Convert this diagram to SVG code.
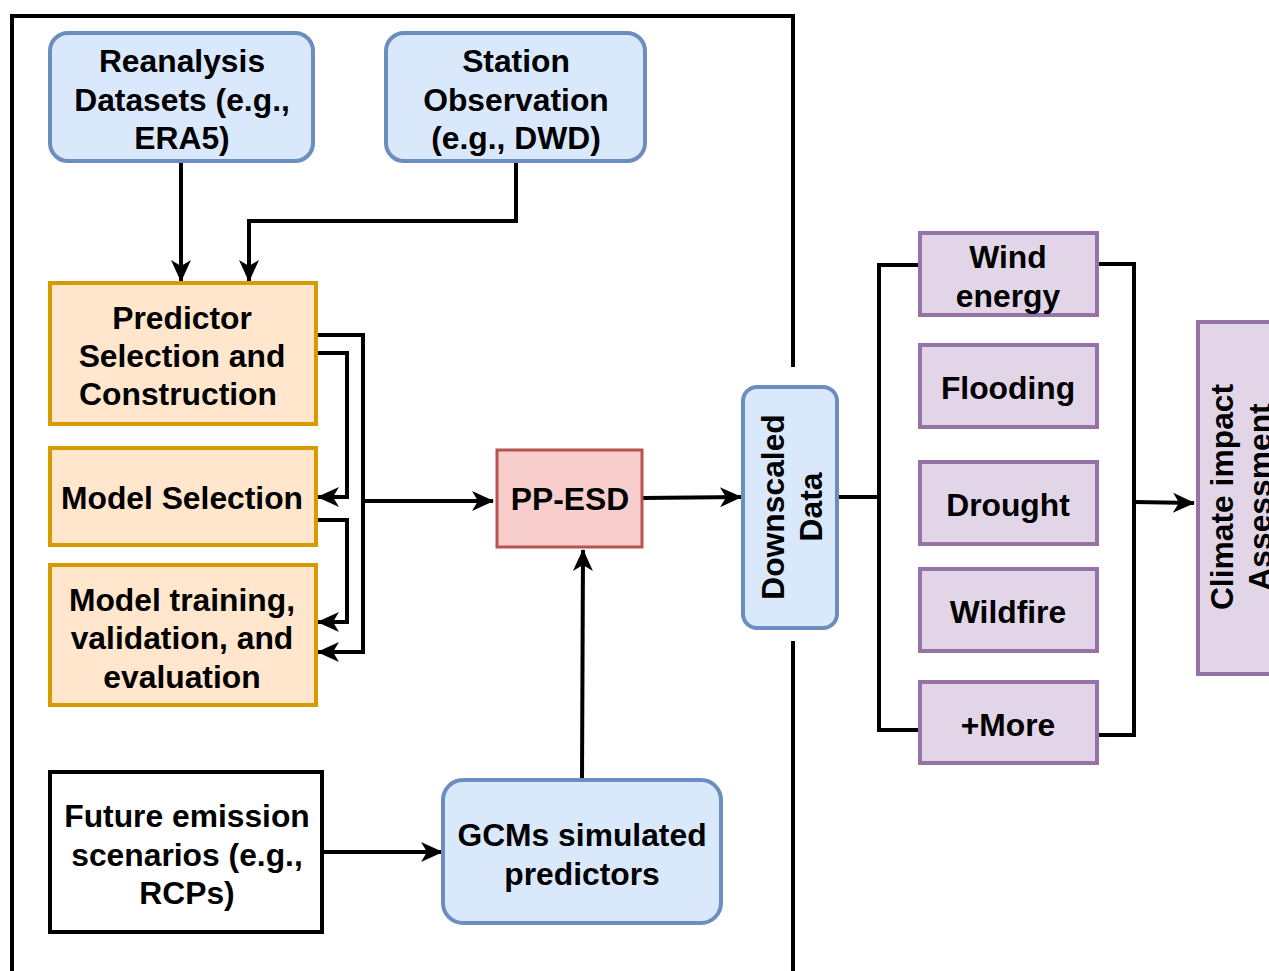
<svg xmlns="http://www.w3.org/2000/svg" width="1269" height="971" viewBox="0 0 1269 971">
<style>
text{font-family:"Liberation Sans",Arial,sans-serif;font-weight:bold;font-size:31.8px;fill:#000;text-anchor:middle;dominant-baseline:central}
.blue{fill:#dae8fc;stroke:#6c8ebf;stroke-width:4}
.orange{fill:#ffe6cc;stroke:#d79b00;stroke-width:4}
.red{fill:#f8cecc;stroke:#b85450;stroke-width:3}
.purple{fill:#e1d5e7;stroke:#9673a6;stroke-width:4}
.plain{fill:#fff;stroke:#000;stroke-width:4}
.ln{fill:none;stroke:#000;stroke-width:4}
.arr{marker-end:url(#ah)}
</style>
<defs>
<marker id="ah" markerUnits="userSpaceOnUse" markerWidth="24" markerHeight="24" viewBox="0 0 24 24" refX="22" refY="12" orient="auto">
<path d="M1,2 L23,12 L1,22 L7,12 z" fill="#000"/>
</marker>
</defs>
<rect width="1269" height="971" fill="#fff"/>
<g id="frame">
<path class="ln" d="M12,971 L12,16 L793,16 L793,367"/>
<path class="ln" d="M793,641 L793,971"/>
</g>
<g id="connectors">
<path class="ln arr" d="M181,161 L181,281"/>
<path class="ln arr" d="M516,161 L516,221 L249,221 L249,281"/>
<path class="ln arr" d="M316,335 L363,335 L363,652 L318,652"/>
<path class="ln arr" d="M316,353 L347,353 L347,497 L318,497"/>
<path class="ln arr" d="M316,520 L347,520 L347,622 L318,622"/>
<path class="ln arr" d="M363,501 L493,501"/>
<path class="ln arr" d="M642,498 L741,497"/>
<path class="ln arr" d="M582,780 L583,550"/>
<path class="ln arr" d="M322,852 L442,852"/>
<path class="ln" d="M837,497 L879,497"/>
<path class="ln" d="M920,265 L879,265 L879,730 L920,730"/>
<path class="ln" d="M1097,264 L1134,264 L1134,735 L1097,735"/>
<path class="ln arr" d="M1134,502 L1194,503"/>
</g>
<g id="reanalysis">
<rect class="blue" x="50" y="33" width="263" height="128" rx="18"/>
<text x="182" y="61">Reanalysis</text>
<text x="182" y="100">Datasets (e.g.,</text>
<text x="182" y="138">ERA5)</text>
</g>
<g id="station">
<rect class="blue" x="386" y="33" width="259" height="128" rx="18"/>
<text x="516" y="61">Station</text>
<text x="516" y="100">Observation</text>
<text x="516" y="138">(e.g., DWD)</text>
</g>
<g id="predictor">
<rect class="orange" x="50" y="283" width="266" height="141"/>
<text x="182" y="318">Predictor</text>
<text x="182" y="356">Selection and</text>
<text x="178" y="394">Construction</text>
</g>
<g id="modelsel">
<rect class="orange" x="50" y="448" width="266" height="97"/>
<text x="182" y="498">Model Selection</text>
</g>
<g id="modeltrain">
<rect class="orange" x="50" y="565" width="266" height="140"/>
<text x="182" y="600">Model training,</text>
<text x="182" y="638">validation, and</text>
<text x="182" y="677">evaluation</text>
</g>
<g id="ppesd">
<rect class="red" x="497" y="450" width="145" height="97"/>
<text x="570" y="499">PP-ESD</text>
</g>
<g id="future">
<rect class="plain" x="50" y="772" width="272" height="160"/>
<text x="187" y="816">Future emission</text>
<text x="187" y="855">scenarios (e.g.,</text>
<text x="187" y="893">RCPs)</text>
</g>
<g id="gcms">
<rect class="blue" x="443" y="780" width="278" height="143" rx="20"/>
<text x="582" y="835">GCMs simulated</text>
<text x="582" y="874">predictors</text>
</g>
<g id="downscaled">
<rect class="blue" x="743" y="387" width="94" height="241" rx="14"/>
<g transform="translate(792,507) rotate(-90)">
<text x="0" y="-19">Downscaled</text>
<text x="0" y="19">Data</text>
</g>
</g>
<g id="wind">
<rect class="purple" x="920" y="233" width="177" height="82"/>
<text x="1008" y="257">Wind</text>
<text x="1008" y="296">energy</text>
</g>
<g id="flooding">
<rect class="purple" x="920" y="345" width="177" height="82"/>
<text x="1008" y="388">Flooding</text>
</g>
<g id="drought">
<rect class="purple" x="920" y="462" width="177" height="82"/>
<text x="1008" y="505">Drought</text>
</g>
<g id="wildfire">
<rect class="purple" x="920" y="569" width="177" height="82"/>
<text x="1008" y="612">Wildfire</text>
</g>
<g id="more">
<rect class="purple" x="920" y="682" width="177" height="81"/>
<text x="1008" y="725">+More</text>
</g>
<g id="climate">
<rect class="purple" x="1198" y="322" width="90" height="352"/>
<g transform="translate(1241,497) rotate(-90)">
<text x="0" y="-19">Climate impact</text>
<text x="0" y="19">Assessment</text>
</g>
</g>
</svg>
